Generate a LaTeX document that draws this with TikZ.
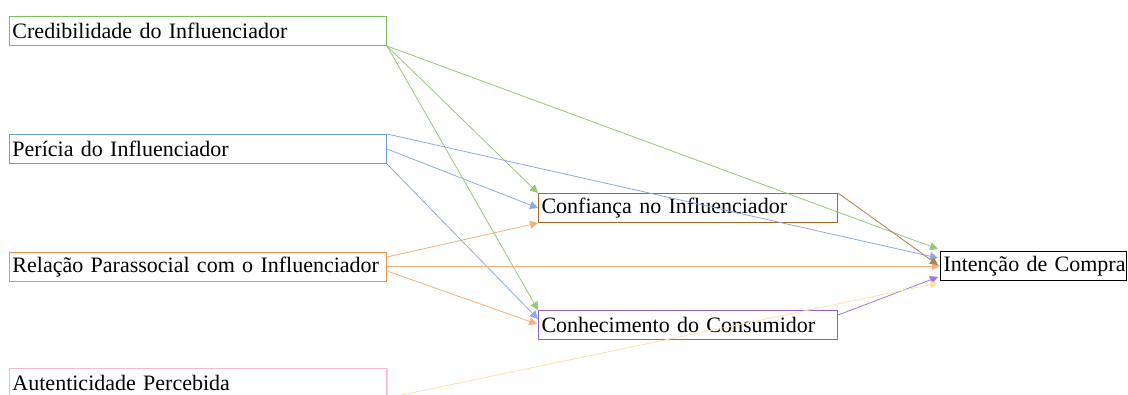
\documentclass[tikz,border=0pt]{standalone}
\usepackage{fontspec}
\setmainfont{Liberation Serif}
\usetikzlibrary{arrows.meta,calc}
\definecolor{cgreen}{RGB}{125,190,95}
\definecolor{cblue}{RGB}{110,155,220}
\definecolor{corange}{RGB}{240,145,80}
\definecolor{cpink}{RGB}{245,185,200}
\definecolor{cyellow}{RGB}{252,222,150}
\definecolor{cbrown}{RGB}{165,105,40}
\definecolor{cpurple}{RGB}{145,95,200}
\definecolor{lgreen}{RGB}{150,200,120}
\definecolor{lblue}{RGB}{140,170,225}
\definecolor{lorange}{RGB}{245,175,125}
\definecolor{lyellow}{RGB}{252,225,165}
\definecolor{lbrown}{RGB}{175,130,80}
\definecolor{lpurple}{RGB}{160,120,210}
\tikzset{
  box/.style={draw, line width=1pt, anchor=north west, minimum height=29pt,
    inner xsep=3pt, inner ysep=0pt, align=left, font=\fontsize{22}{24}\selectfont},
  wide/.style={box, minimum width=377pt, text width=371pt},
  mid/.style={box, minimum width=299pt, text width=293pt},
  conn/.style={line width=0.8pt, -{Triangle[length=8pt,width=8pt]}}
}
\begin{document}
\begin{tikzpicture}[x=1pt,y=-1pt]
\useasboundingbox (0,0) rectangle (1128,394);
\clip (0,0) rectangle (1128,394);
\node[wide, draw=cgreen] (cred) at (9,16) {Credibilidade do Influenciador};
\node[wide, draw=cblue] (per) at (9,134) {Perícia do Influenciador};
\node[wide, draw=corange] (rel) at (9,252) {Relação Parassocial com o Influenciador};
\node[wide, draw=cpink] (aut) at (9,368) {Autenticidade Percebida};
\draw[cyellow, line width=1pt] (aut.north east) -- (aut.south east);
\node[mid, draw=cbrown] (conf) at (538,193) {Confiança no Influenciador};
\node[mid, draw=cpurple] (con) at (538,310) {Conhecimento do Consumidor};
\node[box, draw=black, minimum width=186pt, text width=180pt] (int) at (940,251) {\mbox{Intenção de Compra}};

% to Confianca
\draw[conn, lgreen] (cred.south east) -- (conf.north west);
\draw[conn, lblue] (per.east) -- (conf.west);
\draw[conn, lorange] ($(rel.east)+(0,-10)$) -- (conf.south west);
% to Conhecimento
\draw[conn, lgreen] (cred.south east) -- (con.north west);
\draw[conn, lblue] (per.south east) -- ($(con.west)+(0,-6)$);
\draw[conn, lorange] ($(rel.east)+(0,4)$) -- ($(con.west)+(-1,-1)$);
% to Intencao
\draw[conn, lgreen] (cred.south east) -- ($(int.west)+(-2,-17)$);
\draw[conn, lblue] (per.north east) -- ($(int.west)+(-2,-8)$);
\draw[conn, lorange] (rel.east |- int.west) -- (int.west);
\draw[conn, lbrown] (conf.north east) -- ($(int.west)+(-2,-1)$);
\draw[conn, lpurple] ($(con.east)+(0,-10)$) -- ($(int.west)+(-2,11)$);
\draw[conn, lyellow] (aut.south east) -- ($(int.west)+(-2,17)$);
\end{tikzpicture}
\end{document}
